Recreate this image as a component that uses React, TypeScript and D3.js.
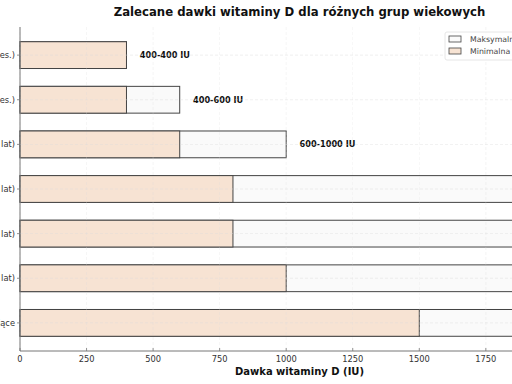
import React from 'react';
import { scaleLinear } from 'd3';

const groups = [
	'Niemowlęta (0-6 mies.)',
	'Niemowlęta (6-12 mies.)',
	'Dzieci (1-10 lat)',
	'Młodzież (11-18 lat)',
	'Dorośli (19-65 lat)',
	'Seniorzy (powyżej 65 lat)',
	'Kobiety w ciąży i karmiące',
];
const minDose = [400, 400, 600, 800, 800, 1000, 1500];
const maxDose = [400, 600, 1000, 2000, 2000, 2000, 2000];
const xTicks = [0, 250, 500, 750, 1000, 1250, 1500, 1750, 2000];

const W = 512;
const H = 384;
const left = 20;
const right = 579;
const top = 27;
const bottom = 351;

const font = 'DejaVu Sans, sans-serif';

const App = () => {
	const x = scaleLinear().domain([0, 2100]).range([left, right]);
	const y = scaleLinear().domain([-0.63, 6.63]).range([top, bottom]);
	const barH = y(0.3) - y(-0.3);

	return (
		<svg width={W} height={H} style={{ position: 'absolute', left: 0, top: 0, background: '#fff' }}>
			{/* bars */}
			{groups.map((g, i) => (
				<g key={g}>
					<rect
						x={x(0)}
						y={y(i) - barH / 2}
						width={x(maxDose[i]) - x(0)}
						height={barH}
						fill="#fafafa"
						stroke="#444"
						strokeWidth={1}
					/>
					<rect
						x={x(0)}
						y={y(i) - barH / 2}
						width={x(minDose[i]) - x(0)}
						height={barH}
						fill="#f7e3d3"
						stroke="#444"
						strokeWidth={1}
					/>
					<text
						x={x(maxDose[i] + 50)}
						y={y(i)}
						dy="0.35em"
						fontFamily={font}
						fontWeight="bold"
						fontSize={8.2}
						fill="#111"
					>
						{minDose[i]}-{maxDose[i]} IU
					</text>
				</g>
			))}

			{/* grid */}
			{xTicks.map((t) => (
				<line key={'gx' + t} x1={x(t)} x2={x(t)} y1={top} y2={bottom} stroke="#ddd" strokeWidth={0.5} strokeDasharray="3,2" opacity={0.5} />
			))}
			{groups.map((g, i) => (
				<line key={'gy' + i} x1={left} x2={right} y1={y(i)} y2={y(i)} stroke="#ddd" strokeWidth={0.6} strokeDasharray="3,2" opacity={0.7} />
			))}

			{/* spines */}
			<line x1={left} x2={left} y1={top} y2={bottom} stroke="#777" strokeWidth={1} />
			<line x1={left} x2={right} y1={bottom} y2={bottom} stroke="#777" strokeWidth={1} />

			{/* x axis */}
			{xTicks.map((t) => (
				<g key={'xt' + t}>
					<line x1={x(t)} x2={x(t)} y1={bottom} y2={bottom - 3} stroke="#777" strokeWidth={0.8} />
					<text x={x(t)} y={bottom + 11} textAnchor="middle" fontFamily={font} fontSize={8.3} fill="#333">
						{t}
					</text>
				</g>
			))}
			<text x={(left + right) / 2} y={375} textAnchor="middle" fontFamily={font} fontWeight="bold" fontSize={10} fill="#111">
				Dawka witaminy D (IU)
			</text>

			{/* y axis */}
			{groups.map((g, i) => (
				<g key={'yt' + i}>
					<line x1={left - 3} x2={left} y1={y(i)} y2={y(i)} stroke="#777" strokeWidth={0.8} />
					<text x={left - 5} y={y(i)} dy="0.35em" textAnchor="end" fontFamily={font} fontSize={8.3} fill="#333">
						{g}
					</text>
				</g>
			))}

			{/* title */}
			<text x={(left + right) / 2} y={16} textAnchor="middle" fontFamily={font} fontWeight="bold" fontSize={11.7} fill="#111">
				Zalecane dawki witaminy D dla różnych grup wiekowych
			</text>

			{/* legend */}
			<g>
				<rect x={445} y={32} width={120} height={28} rx={2} fill="#fff" stroke="#ddd" strokeWidth={0.8} opacity={0.9} />
				<rect x={449} y={36} width={12} height={6} fill="#fafafa" stroke="#444" strokeWidth={0.8} />
				<text x={470} y={39} dy="0.35em" fontFamily={font} fontSize={7.8} fill="#444">
					Maksymalna dawka
				</text>
				<rect x={449} y={48} width={12} height={6} fill="#f7e3d3" stroke="#444" strokeWidth={0.8} />
				<text x={470} y={51} dy="0.35em" fontFamily={font} fontSize={7.8} fill="#444">
					Minimalna dawka
				</text>
			</g>
		</svg>
	);
};

export default App;
